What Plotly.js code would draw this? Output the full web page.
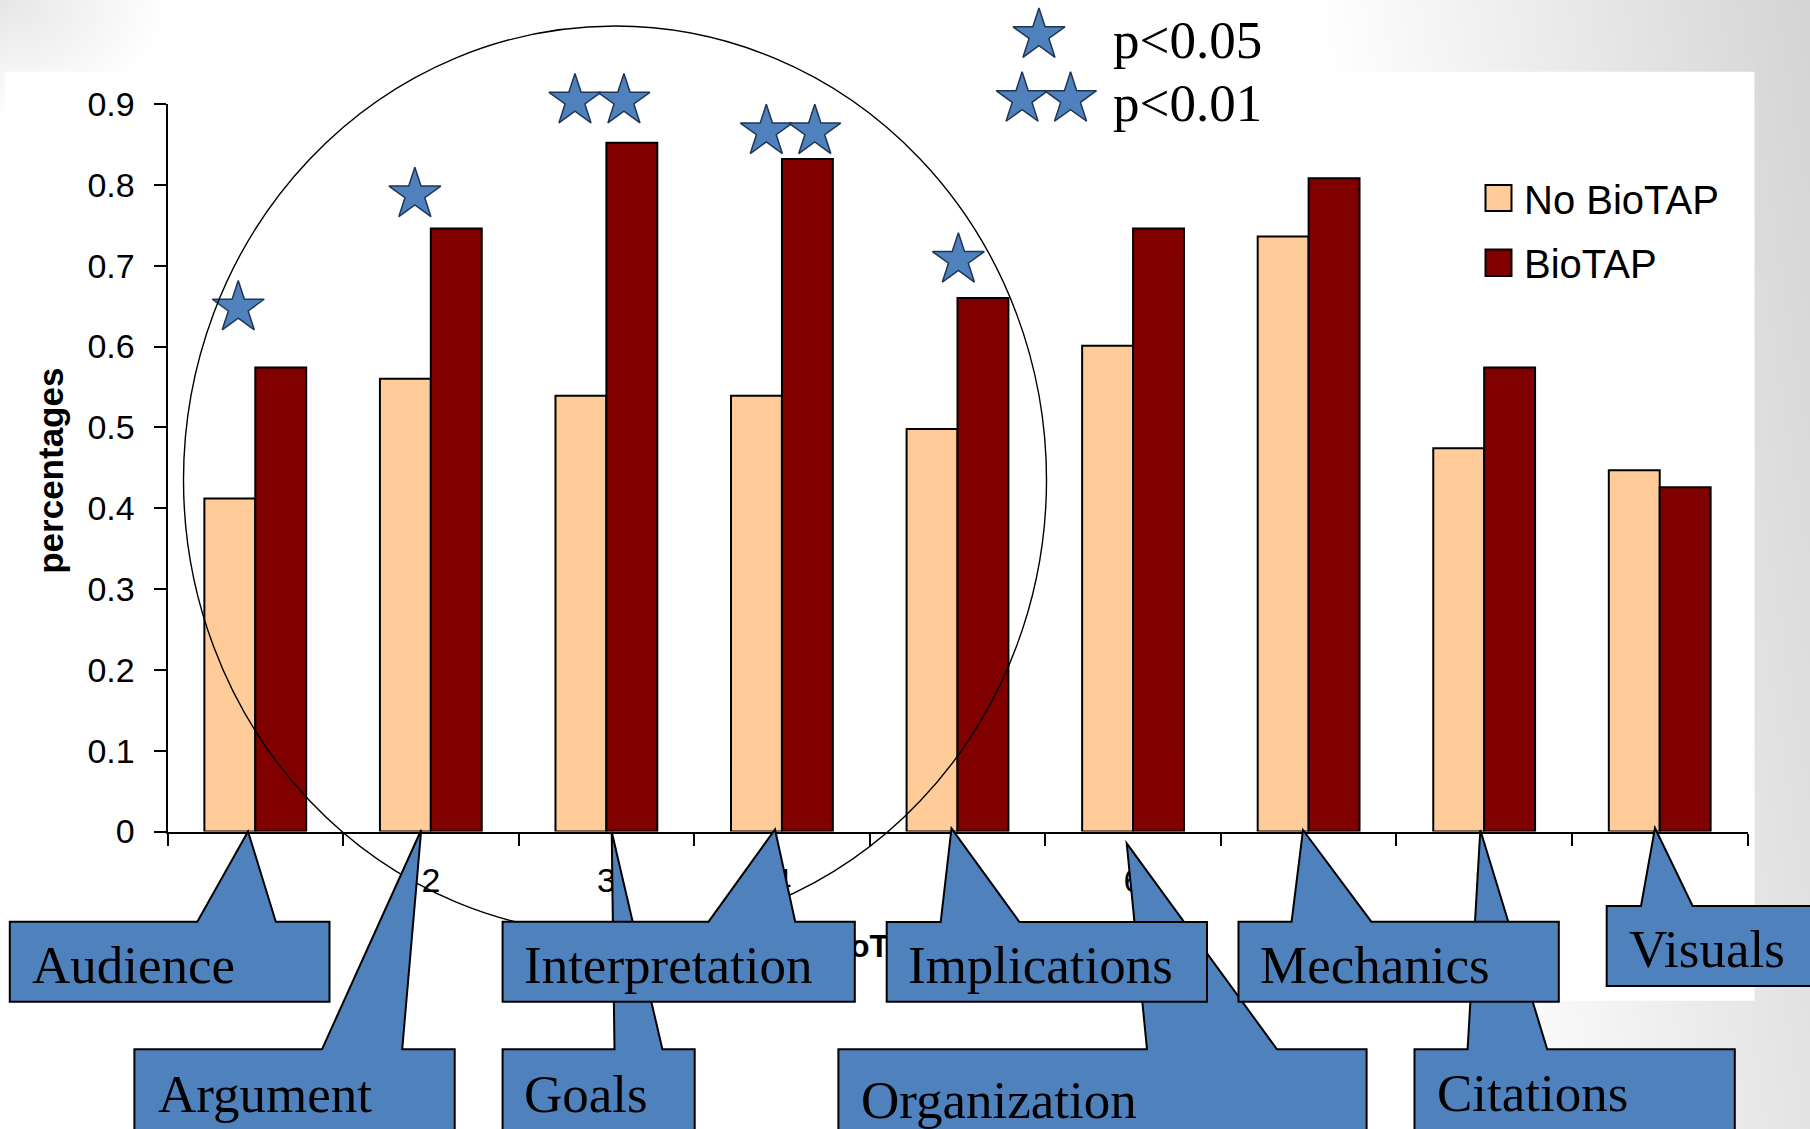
<!DOCTYPE html>
<html>
<head>
<meta charset="utf-8">
<script src="https://cdn.plot.ly/plotly-3.0.1.min.js"></script>
<style>
html,body{margin:0;padding:0;background:#ffffff;}
#chart{width:1810px;height:1129px;
  background:
    radial-gradient(ellipse 170px 120px at 0 0, #e6e6e6 0%, rgba(255,255,255,0) 100%),
    linear-gradient(81deg, #ffffff 0%, #ffffff 75%, #d4d4d4 100%);}
</style>
</head>
<body>
<div id="chart"></div>
<script>
// ---------------- data ----------------
const categories = ['1','2','3','4','5','6','7','8','9'];
const calloutLabels = ['Audience','Argument','Goals','Interpretation','Implications','Organization','Mechanics','Citations','Visuals'];
const seriesNames = ['No BioTAP','BioTAP'];
const noBioTAP = [0.412, 0.560, 0.539, 0.539, 0.498, 0.601, 0.736, 0.474, 0.447];
const bioTAP   = [0.574, 0.746, 0.852, 0.832, 0.660, 0.746, 0.808, 0.574, 0.426];
const yTickVals = [0, 0.1, 0.2, 0.3, 0.4, 0.5, 0.6, 0.7, 0.8, 0.9];
const yTickText = ['0','0.1','0.2','0.3','0.4','0.5','0.6','0.7','0.8','0.9'];
const yTitle = 'percentages';
const xTitle = 'BioTAP Question';
const sigLabels = ['p<0.05', 'p<0.01'];
// significance stars (category index, value)
const sigStarX = [-0.097, 0.909, 1.821, 2.100, 2.911, 3.187, 4.005];
const sigStarY = [0.648, 0.788, 0.904, 0.904, 0.866, 0.866, 0.707];
// key stars (one for p<0.05, two for p<0.01)
const keyStarX = [4.464, 4.368, 4.644];
const keyStarY = [0.985, 0.906, 0.906];

// ---------------- geometry / style ----------------
const W = 1810, H = 1129;
const PX0 = 167.5, PX1 = 1747.5, PY0 = 831.5, PY1 = 104;
const UNIT_Y = (PY0 - PY1) / 0.9;        // pixels per 1.0 of value
const UNIT_X = (PX1 - PX0) / 9;          // pixels per category
const fx = x => +(x / W).toFixed(5);
const fy = y => +(1 - y / H).toFixed(5);
const SANS = 'Liberation Sans, Arial, sans-serif';
const SERIF = 'Liberation Serif, Times New Roman, serif';
const BLUE = '#4F81BD';

// callout geometry in page pixels: [left, top, right, bottom, baseL, baseR, tipX, tipY, textX, textBaseline]
const calloutGeom = {
  'Audience':      [9.8,   921.7, 329.5,  1001.7, 197.3,  275.8,  248.0,  831.5, 30,    983.3],
  'Argument':      [134.4, 1049.3, 454.7, 1145,   322.0,  402.2,  421.2,  830.0, 155.8, 1111.7],
  'Goals':         [502.6, 1049.3, 694.7, 1145,   614.5,  662.4,  611.7,  831.7, 522,   1111.7],
  'Interpretation':[502.6, 921.7, 854.8,  1001.7, 708.6,  795.2,  775.0,  829.5, 522,   983.3],
  'Implications':  [886.7, 922.0, 1207.0, 1001.7, 940.7,  1019.5, 951.5,  828.5, 906,   983.3],
  'Organization':  [838.4, 1049.3, 1366.6, 1145,  1147.0, 1277.0, 1126.7, 843.3, 859,   1118.0],
  'Mechanics':     [1238.5, 921.7, 1558.8, 1001.7, 1291.6, 1371.3, 1303.0, 830.0, 1258, 983.3],
  'Citations':     [1414.5, 1049.3, 1734.8, 1145, 1467.6, 1547.2, 1480.3, 830.0, 1434.7, 1110.5],
  'Visuals':       [1606.7, 906.0, 1815,  986.0,  1641.0, 1692.6, 1655.0, 828.0, 1627.5, 966.7]
};
const lowerRow = ['Argument','Goals','Organization','Citations'];
const upperRow = ['Audience','Interpretation','Implications','Mechanics','Visuals'];

function calloutPath(g){
  const [l,t,r,b,bl,br,tx,ty] = g;
  const pts = [[l,t],[bl,t],[tx,ty],[br,t],[r,t],[r,b],[l,b]];
  return 'M' + pts.map(p => fx(p[0]) + ',' + fy(p[1])).join('L') + 'Z';
}

const shapes = [];
const annotations = [];

// white chart area
shapes.push({type:'rect', xref:'paper', yref:'paper', layer:'below',
  x0:fx(5), x1:fx(1754.5), y0:fy(1000.7), y1:fy(71.7),
  fillcolor:'#ffffff', line:{width:0}});

// ellipse highlighting the significant criteria
shapes.push({type:'circle', xref:'paper', yref:'paper', layer:'above',
  x0:fx(183.5), x1:fx(1046.5), y0:fy(934), y1:fy(26),
  fillcolor:'rgba(0,0,0,0)', line:{color:'#000000', width:1.4}});

// callouts: lower row first so the upper row covers their pointers
lowerRow.concat(upperRow).forEach(name => {
  const g = calloutGeom[name];
  shapes.push({type:'path', xref:'paper', yref:'paper', layer:'above',
    path: calloutPath(g), fillcolor: BLUE, line:{color:'#000000', width:2}});
  annotations.push({xref:'paper', yref:'paper', x: fx(g[8]), y: fy(g[9] - 0.3375*53),
    xanchor:'left', yanchor:'middle', showarrow:false, text: name,
    font:{family:SERIF, size:53, color:'#000000'}});
});

// legend for bar series
const legendColors = ['#FFCC99', '#800000'];
const legendRows = [[185, 211, 213.7], [249.5, 276, 277.5]];
seriesNames.forEach((n, i) => {
  const r = legendRows[i];
  shapes.push({type:'rect', xref:'paper', yref:'paper', layer:'above',
    x0:fx(1485.5), x1:fx(1511.5), y0:fy(r[1]), y1:fy(r[0]),
    fillcolor: legendColors[i], line:{color:'#000000', width:2}});
  annotations.push({xref:'paper', yref:'paper', x: fx(1522), y: fy(r[2] - 0.3465*40),
    xanchor:'left', yanchor:'middle', showarrow:false, text: n,
    font:{family:SANS, size:40, color:'#000000'}});
});

// significance key texts
const keyBaselines = [57.7, 120.7];
sigLabels.forEach((t, i) => {
  annotations.push({xref:'paper', yref:'paper', x: fx(1111), y: fy(keyBaselines[i] - 0.3375*53),
    xanchor:'left', yanchor:'middle', showarrow:false,
    text: t.replace(/</g,'&lt;'),
    font:{family:SERIF, size:53, color:'#000000'}});
});

// y axis title
annotations.push({xref:'paper', yref:'paper', x: fx(50.5), y: fy(470.3), textangle:-90,
  xanchor:'center', yanchor:'middle', showarrow:false, text:'<b>' + yTitle + '</b>',
  font:{family:SANS, size:35, color:'#000000'}});

// ---------------- traces ----------------
const traces = [
  {type:'bar', name:seriesNames[0], x:categories, y:noBioTAP, xaxis:'x', yaxis:'y',
   marker:{color:'#FFCC99', line:{color:'#000000', width:2}}, hoverinfo:'skip'},
  {type:'bar', name:seriesNames[1], x:categories, y:bioTAP, xaxis:'x', yaxis:'y',
   marker:{color:'#800000', line:{color:'#000000', width:2}}, hoverinfo:'skip'},
  {type:'scatter', mode:'markers', name:'significance',
   x: sigStarX.concat(keyStarX), y: sigStarY.concat(keyStarY), xaxis:'x2', yaxis:'y2',
   cliponaxis:false, hoverinfo:'skip',
   marker:{symbol:'star', size:39, color:BLUE, line:{color:'#1F3556', width:1.5}}},
  {type:'scatter', mode:'text', name:'x title',
   x:[(818 - PX0)/UNIT_X - 0.5], y:[(PY0 - 948.8)/UNIT_Y],
   xaxis:'x2', yaxis:'y2', cliponaxis:false, hoverinfo:'skip',
   text:[xTitle], textposition:'middle right',
   textfont:{family:SANS, size:32, color:'#000000', weight:'bold'}}
];

const layout = {
  width:W, height:H,
  margin:{l:0, r:0, t:0, b:0, pad:0},
  paper_bgcolor:'rgba(0,0,0,0)', plot_bgcolor:'rgba(0,0,0,0)',
  showlegend:false,
  barmode:'group', bargap:0.42, bargroupgap:0,
  xaxis:{type:'category', domain:[PX0/W, PX1/W], range:[-0.5, 8.5], automargin:false,
    tickson:'boundaries', ticks:'outside', ticklen:12, tickwidth:2, tickcolor:'#000000',
    showline:true, linecolor:'#000000', linewidth:2, showgrid:false, zeroline:false,
    ticklabelstandoff:18,
    tickfont:{family:SANS, size:34, color:'#000000'}},
  yaxis:{domain:[1 - PY0/H, 1 - PY1/H], range:[0, 0.9], automargin:false,
    tickmode:'array', tickvals:yTickVals, ticktext:yTickText,
    ticks:'outside', ticklen:12, tickwidth:2, tickcolor:'#000000',
    showline:true, linecolor:'#000000', linewidth:2, showgrid:false, zeroline:false,
    ticklabelstandoff:12,
    tickfont:{family:SANS, size:34, color:'#000000'}},
  // helper axes with the same scale, spanning the whole page height (for stars and the hidden x title)
  xaxis2:{type:'linear', anchor:'y2', domain:[PX0/W, PX1/W], range:[-0.5, 8.5],
    visible:false, automargin:false},
  yaxis2:{type:'linear', anchor:'x2', domain:[0, 1], range:[(PY0 - H)/UNIT_Y, PY0/UNIT_Y],
    visible:false, automargin:false},
  shapes: shapes,
  annotations: annotations
};

Plotly.newPlot('chart', traces, layout, {displayModeBar:false, staticPlot:true});
</script>
</body>
</html>
